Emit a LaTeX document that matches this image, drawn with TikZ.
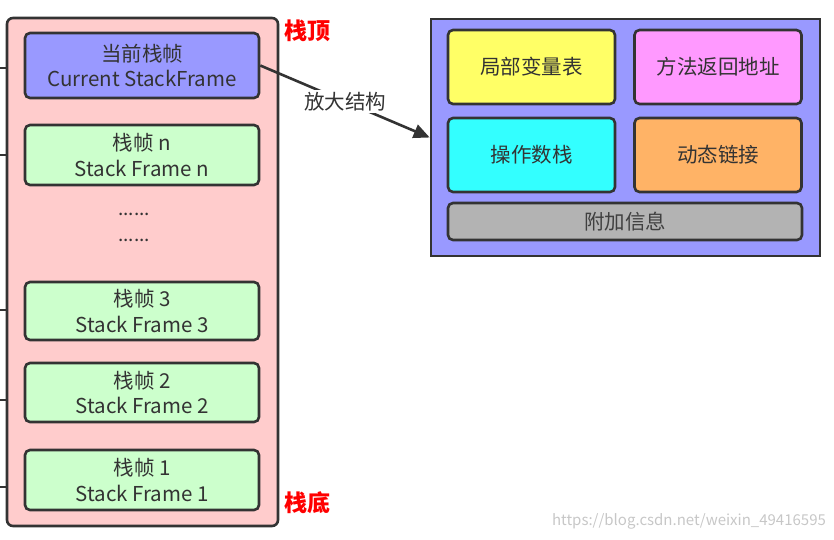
\documentclass[tikz,border=0pt]{standalone}
\usepackage{fontspec}
\setmainfont{Noto Sans CJK SC}
\usetikzlibrary{arrows.meta}
\definecolor{edge}{HTML}{333333}
\definecolor{stackbg}{HTML}{FFCCCC}
\definecolor{curbg}{HTML}{9999FF}
\definecolor{framebg}{HTML}{CCFFCC}
\definecolor{lvbg}{HTML}{FFFF66}
\definecolor{rabg}{HTML}{FF99FF}
\definecolor{osbg}{HTML}{33FFFF}
\definecolor{dlbg}{HTML}{FFB366}
\definecolor{exbg}{HTML}{B3B3B3}
\definecolor{txt}{HTML}{333333}
\tikzset{
  box/.style={draw=edge, line width=2.6pt, rounded corners=5pt, text=txt, align=center,
    font=\fontsize{20.5}{25.5}\selectfont, inner sep=0pt},
  frame/.style={box, fill=framebg, minimum width=234pt, minimum height=60pt},
  part/.style={box, minimum width=167pt, minimum height=74pt},
  redlabel/.style={text=red, font=\fontsize{23}{26}\selectfont\bfseries, inner sep=0pt},
  dots/.style={text=txt, font=\fontsize{19}{19}\selectfont, inner sep=0pt},
  stub/.style={draw=edge, line width=2.2pt},
}
\begin{document}
\begin{tikzpicture}[x=1pt, y=-1pt]
\useasboundingbox (0,0) rectangle (834,539);
% left stack
\node[draw=edge, line width=2.6pt, rounded corners=6pt, fill=stackbg,
  minimum width=271pt, minimum height=508pt, inner sep=0pt] (stack) at (142.5,272) {};
\node[box, fill=curbg, minimum width=234pt, minimum height=65pt] (cur) at (142,65.5) {当前栈帧\\Current StackFrame};
\node[frame] (fn) at (142,155) {栈帧 n\\Stack Frame n};
\node[dots] (d1) at (134,214) {......};
\node[dots] (d2) at (134,240) {......};
\node[frame, minimum height=58pt] (f3) at (142,311) {栈帧 3\\Stack Frame 3};
\node[frame, minimum height=59pt] (f2) at (142,392.5) {栈帧 2\\Stack Frame 2};
\node[frame] (f1) at (142,480) {栈帧 1\\Stack Frame 1};
\node[redlabel] (top) at (307,31) {栈顶};
\node[redlabel] (bottom) at (307,503) {栈底};
% stubs of incoming lines on the left
\foreach \n/\yy in {a/68, b/155, c/310, d/400, e/487}{
  \coordinate (s\n) at (0,\yy);
  \draw[stub] (s\n) -- (s\n -| stack.west);
}
% detail box
\node[draw=edge, line width=2.6pt, fill=curbg, minimum width=389pt, minimum height=237pt, inner sep=0pt] (detail) at (625.5,137.5) {};
\node[part, fill=lvbg] (lv) at (531.5,67) {局部变量表};
\node[part, fill=rabg] (ra) at (718,67) {方法返回地址};
\node[part, fill=osbg] (os) at (531.5,155) {操作数栈};
\node[part, fill=dlbg] (dl) at (718,155) {动态链接};
\node[box, fill=exbg, minimum width=354pt, minimum height=37pt, text=black!75] (ex) at (625,221.5) {附加信息};
% connector
\draw[draw=edge, line width=2.6pt, -{Triangle[length=16pt, width=14pt]}] (cur.east) -- (detail.west)
  node[midway, fill=white, text=txt, font=\fontsize{20.5}{24}\selectfont, inner sep=2pt] (lbl) {放大结构};
% watermark
\node[text=black!22, font=\fontsize{15}{17}\selectfont, inner sep=0pt] (wm) at (689,521) {https://blog.csdn.net/weixin\_49416595};
\end{tikzpicture}
\end{document}
